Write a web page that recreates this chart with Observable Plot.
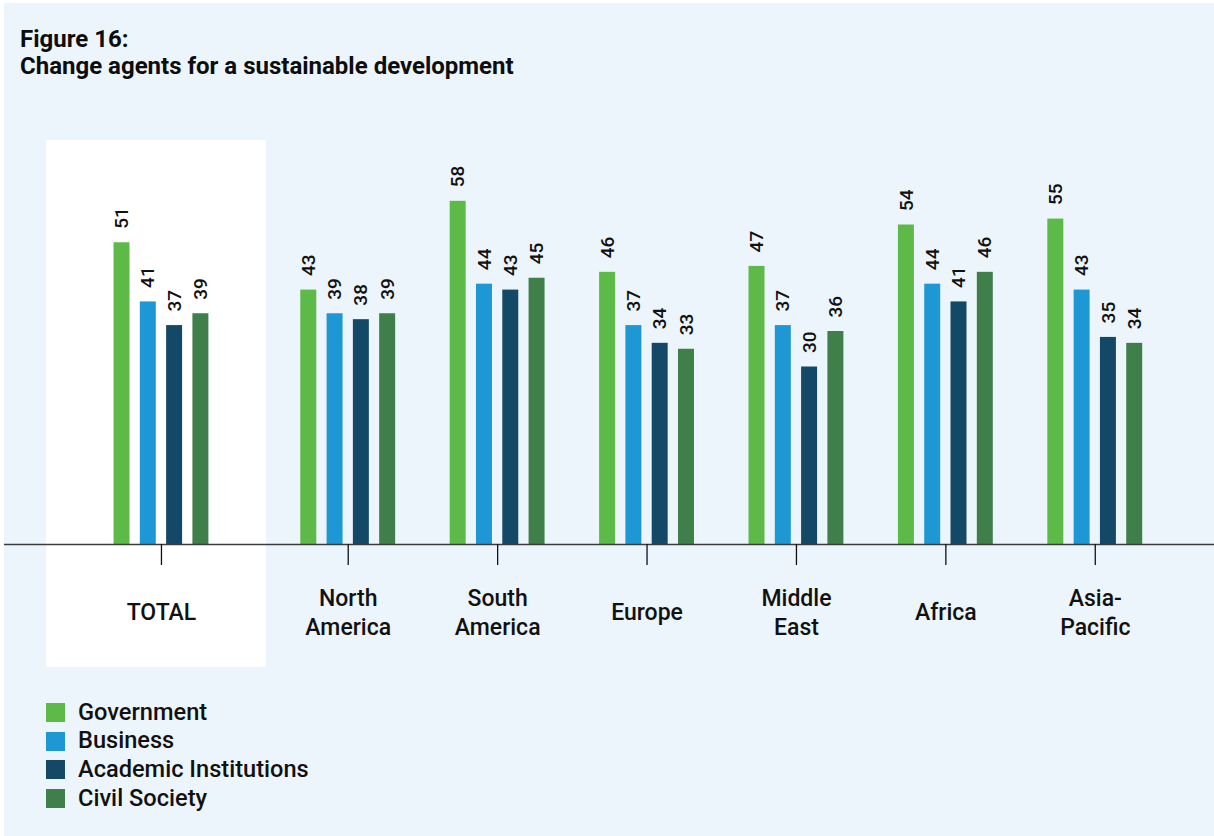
<!DOCTYPE html>
<html>
<head>
<meta charset="utf-8">
<script src="https://cdn.jsdelivr.net/npm/d3@7"></script>
<script src="https://cdn.jsdelivr.net/npm/@observablehq/plot@0.6"></script>
<style>
  html, body { margin: 0; padding: 0; background: #ffffff; }
  body { width: 1214px; height: 836px; position: relative; overflow: hidden; font-family: Roboto, "Noto Sans", sans-serif; color: #111; }
  #panel { position: absolute; left: 4px; top: 3px; width: 1210px; height: 833px; background: #edf5fc; }
  #title { position: absolute; left: 20px; top: 26px; font-size: 24px; font-weight: 700; line-height: 27px; color: #0d0d0d; }
  #totalbox { position: absolute; left: 46px; top: 140px; width: 220px; height: 527px; background: #ffffff; }
  #chart { position: absolute; left: 0; top: 140px; }
  #legend { position: absolute; left: 46px; top: 698px; }
  .row { display: flex; align-items: center; height: 28.7px; }
  .sw { width: 19px; height: 19px; margin-right: 13px; }
  .lab { font-size: 23.6px; font-weight: 500; color: #111; line-height: 1; }
</style>
</head>
<body>
<div id="panel"></div>
<div id="title">Figure 16:<br>Change agents for a sustainable development</div>
<div id="totalbox"></div>
<div id="chart"></div>
<div id="legend"></div>
<script>
// ---- data ----
const groups = ["TOTAL", "North America", "South America", "Europe", "Middle East", "Africa", "Asia-Pacific"];
const groupLabels = ["TOTAL", "North\nAmerica", "South\nAmerica", "Europe", "Middle\nEast", "Africa", "Asia-\nPacific"];
const seriesNames = ["Government", "Business", "Academic Institutions", "Civil Society"];
const government = [51, 43, 58, 46, 47, 54, 55];
const business   = [41, 39, 44, 37, 37, 44, 43];
const academic   = [37, 38, 43, 34, 30, 41, 35];
const civil      = [39, 39, 45, 33, 36, 46, 34];

// ---- styles / layout ----
const seriesColors = ["#5dba49", "#1e98d5", "#144867", "#3f7f4a"];
const seriesValues = [government, business, academic, civil];
const totalGap = 1.25;          // extra spacing of the TOTAL group (in group steps)
const barWidth = 0.107;          // in group steps
const seriesStep = 0.176;        // in group steps
const xDomain = [-1.3005, 6.798];

const groupPos = groups.map((g, i) => (i === 0 ? 1 - totalGap : i));

const rows = [];
groups.forEach((g, i) => {
  seriesNames.forEach((s, j) => {
    const c = groupPos[i] + (j - 1.5) * seriesStep;
    rows.push({group: g, series: s, value: seriesValues[j][i], xc: c, x1: c - barWidth / 2, x2: c + barWidth / 2});
  });
});
const labelRows = groups.map((g, i) => ({pos: groupPos[i], label: groupLabels[i]}));

const chart = Plot.plot({
  width: 1214,
  height: 527,
  marginLeft: 4,
  marginRight: 0,
  marginTop: 49,
  marginBottom: 123,
  x: {type: "linear", domain: xDomain, axis: null},
  y: {domain: [0, 60], axis: null},
  color: {domain: seriesNames, range: seriesColors},
  style: {background: "transparent", fontFamily: "Roboto, 'Noto Sans', sans-serif", overflow: "visible", color: "#111"},
  marks: [
    Plot.rectY(rows, {x1: "x1", x2: "x2", y1: 0, y2: "value", fill: "series"}),
    Plot.text(rows, {x: "xc", y: "value", text: d => String(d.value), rotate: -90, textAnchor: "start", lineAnchor: "middle", dy: -14, fontSize: 19, fontWeight: 500, fill: "#111"}),
    Plot.ruleY([0], {stroke: "#3c3c3c", strokeWidth: 1.5}),
    Plot.axisX(groupPos, {tickSize: 21, tickFormat: () => "", stroke: "#111", strokeWidth: 1.3}),
    Plot.text(labelRows, {x: "pos", frameAnchor: "bottom", text: "label", dy: 66.5, lineAnchor: "middle", lineHeight: 1.25, fontSize: 23, fontWeight: 500, fill: "#111"})
  ]
});
document.getElementById("chart").appendChild(chart);

// ---- legend ----
const legend = document.getElementById("legend");
seriesNames.forEach((s, j) => {
  const row = document.createElement("div");
  row.className = "row";
  const sw = document.createElement("div");
  sw.className = "sw";
  sw.style.background = seriesColors[j];
  const lab = document.createElement("div");
  lab.className = "lab";
  lab.textContent = s;
  row.appendChild(sw);
  row.appendChild(lab);
  legend.appendChild(row);
});
</script>
</body>
</html>
